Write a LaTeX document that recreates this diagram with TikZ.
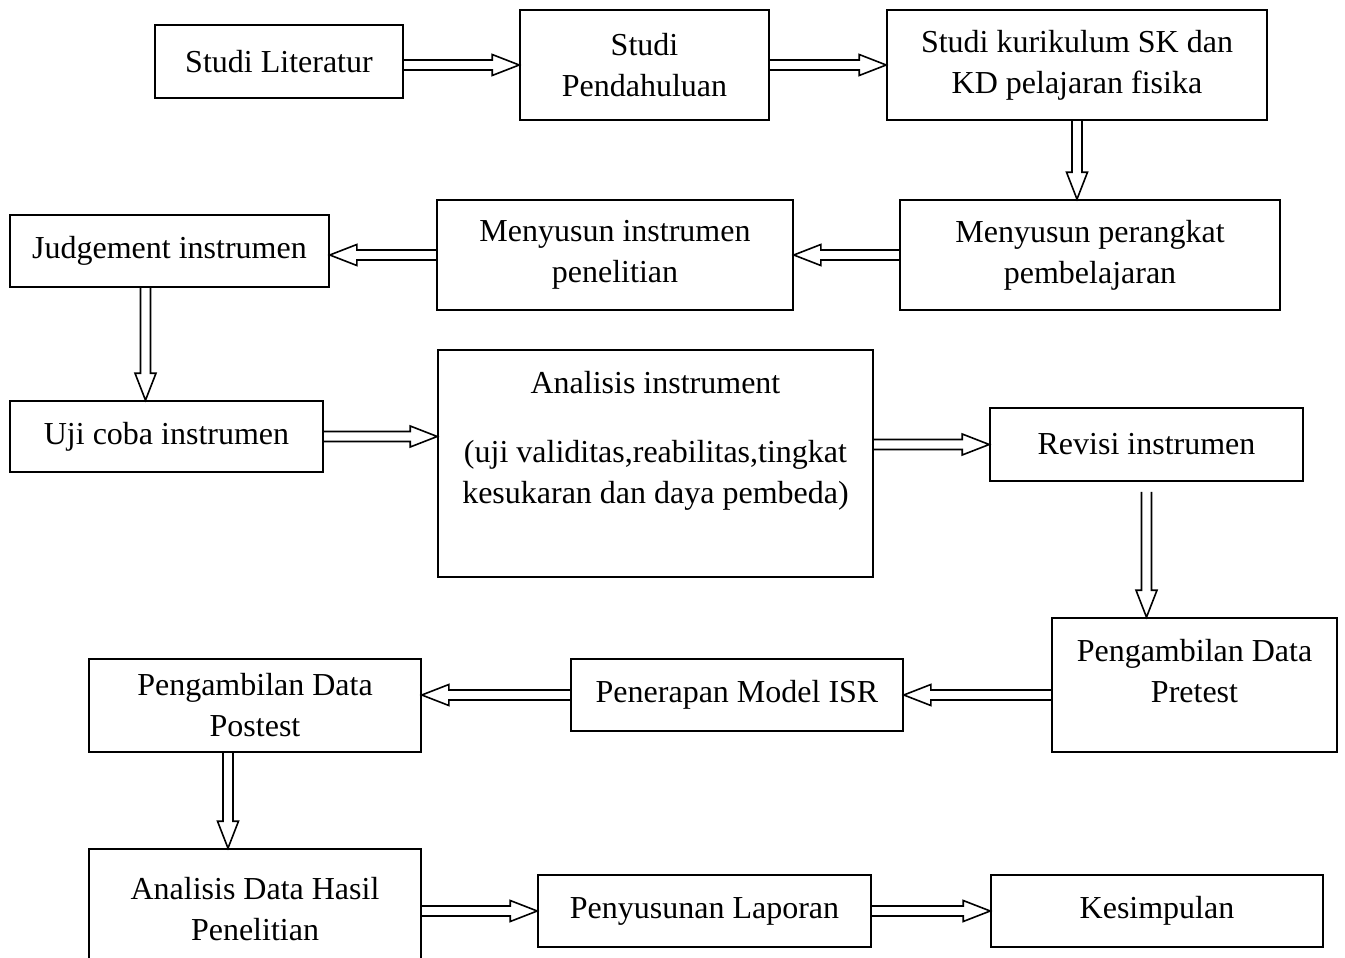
\documentclass[tikz,border=0pt]{standalone}
\usepackage{fontspec}
\setmainfont{Liberation Serif}
\usetikzlibrary{calc}
\tikzset{
    box/.style={draw, line width=1.6pt, inner sep=0pt, align=center,
        font=\fontsize{32}{41}\selectfont},
    blk/.style={line width=1.6pt, line join=miter, to path={
        ($(\tikztostart)!5pt!90:(\tikztotarget)$)
        -- ($($(\tikztotarget)!27pt!(\tikztostart)$)!5pt!90:(\tikztotarget)$)
        -- ($($(\tikztotarget)!27pt!(\tikztostart)$)!10.5pt!90:(\tikztotarget)$)
        -- (\tikztotarget)
        -- ($($(\tikztotarget)!27pt!(\tikztostart)$)!10.5pt!-90:(\tikztotarget)$)
        -- ($($(\tikztotarget)!27pt!(\tikztostart)$)!5pt!-90:(\tikztotarget)$)
        -- ($(\tikztostart)!5pt!-90:(\tikztotarget)$)}}
}
\begin{document}
\begin{tikzpicture}[x=1pt, y=-1pt]
                \useasboundingbox (0,0) rectangle (1345,958);
                \clip (0,0) rectangle (1345,958);

                \node[box, minimum width=248, minimum height=73] (lit) at (279,61.5) {Studi Literatur};
                \node[box, minimum width=249, minimum height=110] (pend) at (644.5,65) {Studi\\Pendahuluan};
                \node[box, minimum width=380, minimum height=110] (kur) at (1077,65) {Studi kurikulum SK dan\\KD pelajaran fisika};
                \node[box, minimum width=380, minimum height=110] (perangkat) at (1090,255) {Menyusun perangkat\\pembelajaran};
                \node[box, minimum width=356, minimum height=110] (instr) at (615,255) {Menyusun instrumen\\penelitian};
                \node[box, minimum width=319, minimum height=72] (judge) at (169.5,251) {Judgement instrumen};
                \node[box, minimum width=313, minimum height=71] (uji) at (166.5,436.5) {Uji coba instrumen};
                \node[box, minimum width=435, minimum height=227] (anal) at (655.5,463.5) {Analisis instrument\\[28pt](uji validitas,reabilitas,tingkat\\kesukaran dan daya pembeda)\\[12pt]\mbox{}};
                \node[box, minimum width=313, minimum height=73] (rev) at (1146.5,444.5) {Revisi instrumen};
                \node[box, minimum width=285, minimum height=134] (pre) at (1194.5,685) {Pengambilan Data\\Pretest\\[-13pt]\mbox{}};
                \node[box, minimum width=332, minimum height=72] (isr) at (737,695) {Penerapan Model ISR};
                \node[box, minimum width=332, minimum height=93] (post) at (255,705.5) {Pengambilan Data\\Postest};
                \node[box, minimum width=332, minimum height=121] (hasil) at (255,909.5) {Analisis Data Hasil\\Penelitian};
                \node[box, minimum width=333, minimum height=72] (lap) at (704.5,911) {Penyusunan Laporan};
                \node[box, minimum width=332, minimum height=72] (kes) at (1157,911) {Kesimpulan};

                \coordinate (j1) at ([xshift=-24pt]judge.south);
                \coordinate (r1) at ([yshift=-10pt]rev.south);
                \coordinate (p1) at ([xshift=-27pt]post.south);

                \draw[blk] (lit.east |- pend.west) to (pend.west);
                \draw[blk] (pend.east) to (kur.west);
                \draw[blk] (kur.south) to (kur.south |- perangkat.north);
                \draw[blk] (perangkat.west) to (instr.east);
                \draw[blk] (instr.west) to (instr.west -| judge.east);
                \draw[blk] (j1) to (j1 |- uji.north);
                \draw[blk] (uji.east) to (uji.east -| anal.west);
                \draw[blk] (rev.west -| anal.east) to (rev.west);
                \draw[blk] (r1) to (r1 |- pre.north);
                \draw[blk] (isr.east -| pre.west) to (isr.east);
                \draw[blk] (isr.west) to (isr.west -| post.east);
                \draw[blk] (p1) to (p1 |- hasil.north);
                \draw[blk] (lap.west -| hasil.east) to (lap.west);
                \draw[blk] (lap.east) to (kes.west);
            \end{tikzpicture}
\end{document}
